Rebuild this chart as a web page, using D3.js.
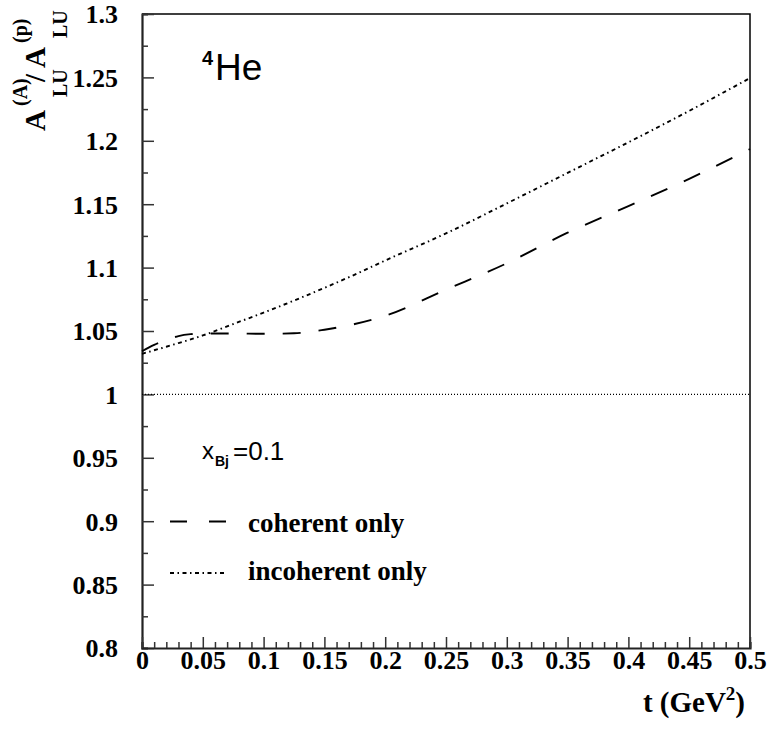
<!DOCTYPE html>
<html>
<head>
<meta charset="utf-8">
<script src="https://cdn.jsdelivr.net/npm/d3@7"></script>
<style>
  html, body { margin: 0; padding: 0; background: #fff; }
  svg { display: block; }
</style>
</head>
<body>
<script>
// Momentum transfer t (GeV^2) sampled along the curves
const tValues = [0, 0.01, 0.02, 0.03, 0.04, 0.05, 0.075, 0.1, 0.125, 0.15, 0.175, 0.2, 0.25, 0.3, 0.35, 0.4, 0.45, 0.5];
// Ratio A_LU^(A) / A_LU^(p) for 4He, coherent channel only
const coherentRatio = [1.034, 1.039, 1.043, 1.046, 1.0475, 1.048, 1.048, 1.0478, 1.0482, 1.051, 1.0555, 1.062, 1.0826, 1.1034, 1.1275, 1.1485, 1.170, 1.1935];
// Ratio for the incoherent channel only
const incoherentRatio = [1.032, 1.0348, 1.0376, 1.0405, 1.0434, 1.0465, 1.0555, 1.0645, 1.074, 1.084, 1.0945, 1.1056, 1.127, 1.1506, 1.1747, 1.1988, 1.2236, 1.2495];
// Reference level
const unityLevel = 1;
// Axis tick labels
const xTickLabels = ["0", "0.05", "0.1", "0.15", "0.2", "0.25", "0.3", "0.35", "0.4", "0.45", "0.5"];
const yTickLabels = ["0.8", "0.85", "0.9", "0.95", "1", "1.05", "1.1", "1.15", "1.2", "1.25", "1.3"];
const legendLabels = ["coherent only", "incoherent only"];

(function () {
const W = 772, H = 729;
const padL = 142, padR = 750, padT = 14, padB = 648;

const svg = d3.select("body").append("svg").attr("width", W).attr("height", H);

const x = d3.scaleLinear().domain([0, 0.5]).range([padL, padR]);
const y = d3.scaleLinear().domain([0.8, 1.3]).range([padB, padT]);

const serif = "'Liberation Serif', 'Times New Roman', serif";
const sans = "'Liberation Sans', Arial, Helvetica, sans-serif";
const dotDash = "4,3.5,1.5,3.5";

// Frame: top and right edges
svg.append("path")
  .attr("d", `M${padL},${padT}H${padR}V${padB}`)
  .attr("fill", "none").attr("stroke", "#000").attr("stroke-width", 1.5);

// Left axis with inward ticks
const yMinor = d3.range(0, 21).map(i => 0.8 + i * 0.025);
const yAxis = d3.axisRight(y).tickValues(yMinor).tickSize(6).tickFormat("");
const gy = svg.append("g").attr("transform", `translate(${padL},0)`).call(yAxis);
gy.selectAll(".tick line")
  .attr("x2", (d, i) => i % 2 === 0 ? 12 : 6)
  .attr("stroke", "#333").attr("stroke-width", 1.5);
gy.select(".domain").attr("stroke", "#222").attr("stroke-width", 2.2);

const yLabelAxis = d3.axisLeft(y).tickValues(yTickLabels.map(Number)).tickSize(0).tickPadding(24)
  .tickFormat((d, i) => yTickLabels[i]);
const gyl = svg.append("g").attr("transform", `translate(${padL},0)`).call(yLabelAxis);
gyl.select(".domain").remove();
gyl.selectAll("text")
  .attr("font-family", serif).attr("font-weight", "bold").attr("font-size", 26)
  .attr("fill", "#000").attr("dy", "0.34em");

// Bottom axis with inward ticks
const xMinor = d3.range(0, 51).map(i => i * 0.01);
const xAxis = d3.axisTop(x).tickValues(xMinor).tickSize(6).tickFormat("");
const gx = svg.append("g").attr("transform", `translate(0,${padB})`).call(xAxis);
gx.selectAll(".tick line")
  .attr("y2", (d, i) => i % 5 === 0 ? -11 : -6)
  .attr("stroke", "#333").attr("stroke-width", 1.5);
gx.select(".domain").attr("stroke", "#222").attr("stroke-width", 2.2);

const xLabelAxis = d3.axisBottom(x).tickValues(xTickLabels.map(Number)).tickSize(0).tickPadding(0)
  .tickFormat((d, i) => xTickLabels[i]);
const gxl = svg.append("g").attr("transform", `translate(0,${padB})`).call(xLabelAxis);
gxl.select(".domain").remove();
gxl.selectAll("text")
  .attr("font-family", serif).attr("font-weight", "bold").attr("font-size", 26)
  .attr("fill", "#000").attr("dy", null).attr("y", 21);

// Unity reference line
svg.append("line")
  .attr("x1", x(0)).attr("x2", x(0.5)).attr("y1", y(unityLevel)).attr("y2", y(unityLevel))
  .attr("stroke", "#000").attr("stroke-width", 1.2).attr("stroke-dasharray", "1,2");

// Curves
const line = d3.line().x(d => x(d[0])).y(d => y(d[1])).curve(d3.curveMonotoneX);
const coherentPts = tValues.map((t, i) => [t, coherentRatio[i]]);
const incoherentPts = tValues.map((t, i) => [t, incoherentRatio[i]]);

const plot = svg.append("g");
plot.append("path").datum(incoherentPts).attr("d", line)
  .attr("fill", "none").attr("stroke", "#000").attr("stroke-width", 1.9)
  .attr("stroke-dasharray", dotDash);
plot.append("path").datum(coherentPts).attr("d", line)
  .attr("fill", "none").attr("stroke", "#000").attr("stroke-width", 1.9)
  .attr("stroke-dasharray", "18,18");

// Legend
const legend = [
  { label: legendLabels[0], dash: "17,22", yLine: 521.5, yText: 532 },
  { label: legendLabels[1], dash: dotDash, yLine: 573, yText: 580 }
];
legend.forEach(l => {
  svg.append("line").attr("x1", 170).attr("x2", 227).attr("y1", l.yLine).attr("y2", l.yLine)
    .attr("stroke", "#000").attr("stroke-width", 1.8).attr("stroke-dasharray", l.dash);
  svg.append("text").attr("x", 248).attr("y", l.yText)
    .attr("font-family", serif).attr("font-weight", "bold").attr("font-size", 27)
    .text(l.label);
});

// Nucleus label
const he = svg.append("text").attr("font-family", sans).attr("fill", "#000");
he.append("tspan").attr("x", 202).attr("y", 65).attr("font-size", 20).attr("font-weight", "bold").text("4");
he.append("tspan").attr("x", 215).attr("y", 80).attr("font-size", 37).text("He");

// Kinematics label
const xb = svg.append("text").attr("font-family", sans).attr("fill", "#000");
xb.append("tspan").attr("x", 202).attr("y", 459).attr("font-size", 24).text("x");
xb.append("tspan").attr("x", 215).attr("y", 466).attr("font-size", 14).attr("font-weight", "bold").text("Bj");
xb.append("tspan").attr("x", 233).attr("y", 460).attr("font-size", 26).text("=0.1");

// X axis title
const xt = svg.append("text").attr("font-family", serif).attr("font-weight", "bold")
  .attr("text-anchor", "end").attr("x", 745).attr("y", 712).attr("font-size", 29);
xt.append("tspan").text("t (GeV");
xt.append("tspan").attr("font-size", 19).attr("dy", -12).text("2");
xt.append("tspan").attr("dy", 12).text(")");

// Y axis title, rotated
const yt = svg.append("g").attr("transform", "translate(45,131) rotate(-90)")
  .attr("font-family", serif).attr("font-weight", "bold").attr("fill", "#000");
const pieces = [
  { s: "A", x: 0, y: 0, f: 29 },
  { s: "(A)", x: 25, y: -18, f: 20 },
  { s: "LU", x: 34, y: 22, f: 20 },
  { s: "/", x: 49, y: 0, f: 29 },
  { s: "A", x: 63, y: 0, f: 29 },
  { s: "(p)", x: 88, y: -18, f: 20 },
  { s: "LU", x: 93, y: 22, f: 20 }
];
pieces.forEach(p => {
  yt.append("text").attr("x", p.x).attr("y", p.y).attr("font-size", p.f).text(p.s);
});
})();
</script>
</body>
</html>
